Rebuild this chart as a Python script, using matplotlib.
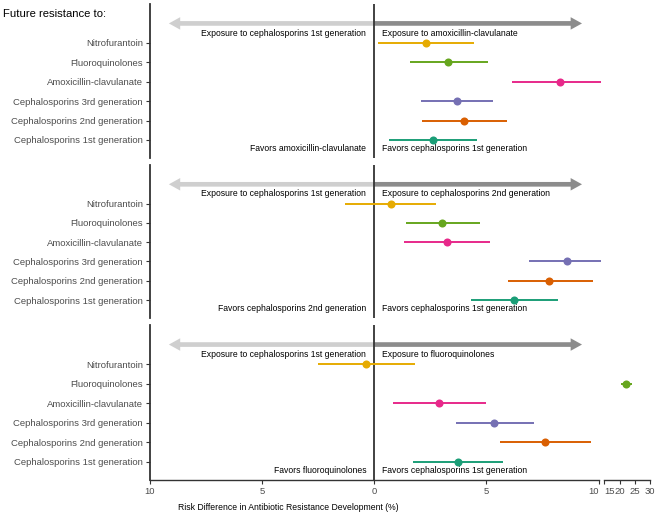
import matplotlib
matplotlib.use("Agg")
import matplotlib.pyplot as plt
from matplotlib.patches import FancyArrowPatch

plt.rcParams['font.family'] = ['Liberation Sans', 'DejaVu Sans']

# rows from bottom to top
categories = ["Cephalosporins 1st generation", "Cephalosporins 2nd generation",
              "Cephalosporins 3rd generation", "Amoxicillin-clavulanate",
              "Fluoroquinolones", "Nitrofurantoin"]
colors = ["#1B9E77", "#D95F02", "#7570B3", "#E7298A", "#66A61E", "#E6AB02"]

exposure_left = "Exposure to cephalosporins 1st generation"
exposure_right = ["Exposure to amoxicillin-clavulanate",
                  "Exposure to cephalosporins 2nd generation",
                  "Exposure to fluoroquinolones"]
favors_left = ["Favors amoxicillin-clavulanate",
               "Favors cephalosporins 2nd generation",
               "Favors fluoroquinolones"]
favors_right = "Favors cephalosporins 1st generation"

# estimates / lower / upper, same order as categories
est_1 = [2.61, 4.02, 3.69, 8.26, 3.30, 2.31]
low_1 = [0.67, 2.11, 2.08, 6.15, 1.59, 0.18]
upp_1 = [4.57, 5.94, 5.31, 10.10, 5.06, 4.45]

est_2 = [6.21, 7.81, 8.57, 3.23, 3.04, 0.73]
low_2 = [4.32, 5.95, 6.91, 1.33, 1.42, -1.28]
upp_2 = [8.17, 9.75, 10.10, 5.18, 4.72, 2.75]

est_3 = [3.72, 7.62, 5.34, 2.89, 22.1, -0.37]
low_3 = [1.71, 5.61, 3.63, 0.85, 20.4, -2.50]
upp_3 = [5.76, 9.66, 7.10, 4.96, 24.0, 1.82]

estimates = [est_1, est_2, est_3]
lowers = [low_1, low_2, low_3]
uppers = [upp_1, upp_2, upp_3]

main_ticks = [-10, -5, 0, 5, 10]
main_ticklabels = ["10", "5", "0", "5", "10"]
break_ticks = [15, 20, 25, 30]

W, H = 657, 517
fig = plt.figure(figsize=(W / 100, H / 100), dpi=100)

panel_px = [(4, 158), (165, 318), (325, 480)]  # top, bottom in pixels
main_l, main_r = 149.8, 598.6
brk_l, brk_r = 604.3, 650.0
dark = "#333333"
tickcol = "#4D4D4D"
ylim = (0.07, 8.0)

for i in range(3):
    top, bot = panel_px[i]
    b = (H - bot) / H
    h = (bot - top) / H
    ax = fig.add_axes([main_l / W, b, (main_r - main_l) / W, h])
    ax2 = fig.add_axes([brk_l / W, b, (brk_r - brk_l) / W, h])
    for a in (ax, ax2):
        a.set_facecolor("none")
        a.set_ylim(*ylim)
        for s in ("top", "right"):
            a.spines[s].set_visible(False)
    ax.set_xlim(-10, 10)
    ax2.set_xlim(15, 30)
    ax2.spines["left"].set_visible(False)
    ax2.set_yticks([])

    ax.spines["left"].set_color(dark)
    ax.spines["left"].set_linewidth(1.3)
    ax.set_yticks(range(1, 7))
    ax.set_yticklabels(categories, color=tickcol, fontsize=6.8)
    ax.tick_params(axis="y", length=3, width=0.8, color=dark, pad=2)

    ax.axvline(0, color=dark, lw=1.3, zorder=2)

    if i == 2:
        for a in (ax, ax2):
            a.spines["bottom"].set_color(dark)
            a.spines["bottom"].set_linewidth(1.0)
            a.tick_params(axis="x", length=3, width=0.8, color=dark,
                          labelcolor=tickcol, labelsize=6.8, pad=2)
        ax.set_xticks(main_ticks)
        ax.set_xticklabels(main_ticklabels)
        ax.get_xticklabels()[-1].set_ha("right")
        ax2.set_xticks(break_ticks)
        ax2.set_xticklabels([str(t) for t in break_ticks])
        ax2.get_xticklabels()[0].set_ha("left")
    else:
        for a in (ax, ax2):
            a.spines["bottom"].set_visible(False)
            a.set_xticks([])

    # direction arrows
    ax.add_patch(FancyArrowPatch((0, 7), (-9.15, 7),
                                 arrowstyle="simple,head_length=0.68,head_width=0.75,tail_width=0.28",
                                 mutation_scale=12, color="#CFCFCF", lw=0,
                                 shrinkA=0, shrinkB=0, zorder=1))
    ax.add_patch(FancyArrowPatch((0, 7), (9.26, 7),
                                 arrowstyle="simple,head_length=0.68,head_width=0.75,tail_width=0.28",
                                 mutation_scale=12, color="#8C8C8C", lw=0,
                                 shrinkA=0, shrinkB=0, zorder=1))
    ax.text(-0.35, 6.5, exposure_left, ha="right", va="center", fontsize=6.2, color="black")
    ax.text(0.35, 6.5, exposure_right[i], ha="left", va="center", fontsize=6.2, color="black")
    ax.text(-0.35, 0.55, favors_left[i], ha="right", va="center", fontsize=6.2, color="black")
    ax.text(0.35, 0.55, favors_right, ha="left", va="center", fontsize=6.2, color="black")

    for j in range(len(categories)):
        e, lo, up = estimates[i][j], lowers[i][j], uppers[i][j]
        target = ax2 if e > 10 else ax
        target.plot([lo, up], [j + 1, j + 1], color=colors[j], lw=1.4,
                    solid_capstyle="butt", clip_on=False, zorder=3)
        target.plot([e], [j + 1], "o", color=colors[j], markersize=5.8,
                    markeredgewidth=0, clip_on=False, zorder=4)

fig.text(3 / W, 1 - 14 / H, "Future resistance to:", ha="left", va="center",
         fontsize=8.1, color="black")
fig.text(288.5 / W, 9 / H, "Risk Difference in Antibiotic Resistance Development (%)",
         ha="center", va="center", fontsize=6.2, color="black")

fig.savefig("out.png", dpi=100)
